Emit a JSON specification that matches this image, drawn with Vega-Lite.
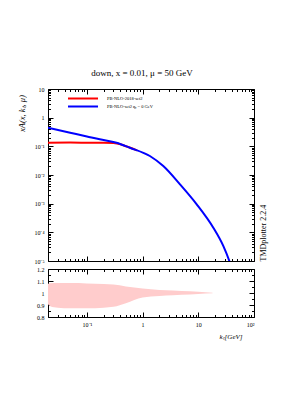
{
  "$schema": "https://vega.github.io/schema/vega-lite/v6.json",
  "padding": {"left": 17, "top": 69, "right": 5, "bottom": 5},
  "config": {
    "font": "Liberation Serif",
    "view": {"stroke": null},
    "axis": {"domainColor": "#000", "domainWidth": 1, "tickColor": "#000", "labelColor": "#000", "labelFont": "Liberation Serif", "labelFontSize": 6, "titleFont": "Liberation Serif", "titleFontWeight": "normal", "titleColor": "#000", "grid": false}
  },
  "title": {"text": "down, x = 0.01, μ = 50 GeV", "font": "Liberation Serif", "fontSize": 9, "fontWeight": "normal", "color": "#000", "offset": 8, "anchor": "middle"},
  "datasets": {
    "curves": [
      {"k": 0.02, "v": 0.134, "s": "PB-NLO-2018-set2"},
      {"k": 0.05, "v": 0.135, "s": "PB-NLO-2018-set2"},
      {"k": 0.1, "v": 0.134, "s": "PB-NLO-2018-set2"},
      {"k": 0.2, "v": 0.133, "s": "PB-NLO-2018-set2"},
      {"k": 0.3, "v": 0.13, "s": "PB-NLO-2018-set2"},
      {"k": 0.4, "v": 0.118, "s": "PB-NLO-2018-set2"},
      {"k": 0.5, "v": 0.101, "s": "PB-NLO-2018-set2"},
      {"k": 0.6, "v": 0.089, "s": "PB-NLO-2018-set2"},
      {"k": 0.8, "v": 0.072, "s": "PB-NLO-2018-set2"},
      {"k": 0.02, "v": 0.447, "s": "PB-NLO-set2 qₛ = 0 GeV"},
      {"k": 0.05, "v": 0.3, "s": "PB-NLO-set2 qₛ = 0 GeV"},
      {"k": 0.1, "v": 0.222, "s": "PB-NLO-set2 qₛ = 0 GeV"},
      {"k": 0.17, "v": 0.176, "s": "PB-NLO-set2 qₛ = 0 GeV"},
      {"k": 0.34, "v": 0.134, "s": "PB-NLO-set2 qₛ = 0 GeV"},
      {"k": 0.59, "v": 0.0895, "s": "PB-NLO-set2 qₛ = 0 GeV"},
      {"k": 1.35, "v": 0.046, "s": "PB-NLO-set2 qₛ = 0 GeV"},
      {"k": 2.35, "v": 0.0206, "s": "PB-NLO-set2 qₛ = 0 GeV"},
      {"k": 4.69, "v": 0.00473, "s": "PB-NLO-set2 qₛ = 0 GeV"},
      {"k": 9.36, "v": 0.00095, "s": "PB-NLO-set2 qₛ = 0 GeV"},
      {"k": 18.6, "v": 0.000145, "s": "PB-NLO-set2 qₛ = 0 GeV"},
      {"k": 28.2, "v": 0.000033, "s": "PB-NLO-set2 qₛ = 0 GeV"},
      {"k": 36.1, "v": 0.00001, "s": "PB-NLO-set2 qₛ = 0 GeV"},
      {"k": 40, "v": 0.0000055, "s": "PB-NLO-set2 qₛ = 0 GeV"}
    ],
    "band": [
      {"k": 0.02, "lo": 0.906, "hi": 1.078},
      {"k": 0.022, "lo": 0.89, "hi": 1.082},
      {"k": 0.03, "lo": 0.877, "hi": 1.083},
      {"k": 0.05, "lo": 0.872, "hi": 1.083},
      {"k": 0.1, "lo": 0.873, "hi": 1.08},
      {"k": 0.2, "lo": 0.878, "hi": 1.075},
      {"k": 0.3, "lo": 0.885, "hi": 1.07},
      {"k": 0.5, "lo": 0.915, "hi": 1.055},
      {"k": 1, "lo": 0.962, "hi": 1.038},
      {"k": 2, "lo": 0.975, "hi": 1.025},
      {"k": 3.5, "lo": 0.981, "hi": 1.02},
      {"k": 5, "lo": 0.985, "hi": 1.016},
      {"k": 10, "lo": 0.992, "hi": 1.01},
      {"k": 18, "lo": 0.998, "hi": 1.002}
    ]
  },
  "bounds": "flush",
  "spacing": 8,
  "vconcat": [
    {
      "width": 206,
      "height": 172,
      "layer": [
        {
          "data": {"name": "curves"},
          "mark": {"type": "line", "clip": true, "strokeWidth": 2, "interpolate": "monotone"},
          "encoding": {
            "x": {"field": "k", "type": "quantitative", "scale": {"type": "log", "domain": [0.02, 100], "nice": false},
              "axis": {"orient": "bottom", "values": [0.02,0.03,0.04,0.05,0.06,0.07,0.08,0.09,0.1,0.2,0.3,0.4,0.5,0.6,0.7,0.8,0.9,1,2,3,4,5,6,7,8,9,10,20,30,40,50,60,70,80,90,100], "labels": false, "title": null,
                "tickSize": {"condition": {"test": "datum.value==0.1||datum.value==1||datum.value==10||datum.value==100", "value": -5}, "value": -2.5}}},
            "y": {"field": "v", "type": "quantitative", "scale": {"type": "log", "domain": [0.00001, 10], "nice": false},
              "axis": {"orient": "left", "values": [0.00001,0.00002,0.00003,0.00004,0.00005,0.00006,0.00007,0.00008,0.00009,0.0001,0.0002,0.0003,0.0004,0.0005,0.0006,0.0007,0.0008,0.0009,0.001,0.002,0.003,0.004,0.005,0.006,0.007,0.008,0.009,0.01,0.02,0.03,0.04,0.05,0.06,0.07,0.08,0.09,0.1,0.2,0.3,0.4,0.5,0.6,0.7,0.8,0.9,1,2,3,4,5,6,7,8,9,10],
                "labelExpr": "datum.value==10?'10':datum.value==1?'1':datum.value==0.1?'10⁻¹':datum.value==0.01?'10⁻²':datum.value==0.001?'10⁻³':datum.value==0.0001?'10⁻⁴':datum.value==0.00001?'10⁻⁵':''",
                "labelPadding": 9,
                "tickSize": {"condition": {"test": "datum.value==0.00001||datum.value==0.0001||datum.value==0.001||datum.value==0.01||datum.value==0.1||datum.value==1||datum.value==10", "value": -5}, "value": -2.5},
                "title": "xA(x, kₜ, μ)", "titleFontSize": 8.5, "titleFontStyle": "italic", "titleX": -27, "titleY": 24, "titleAlign": "center", "titleBaseline": "middle", "titleAngle": 270}},
            "color": {"field": "s", "type": "nominal", "scale": {"domain": ["PB-NLO-2018-set2", "PB-NLO-set2 qₛ = 0 GeV"], "range": ["#ff0000", "#0000ff"]},
              "legend": {"orient": "none", "legendX": 31.5, "legendY": 6, "title": null, "symbolType": "M-6,0H6", "symbolSize": 25, "symbolStrokeWidth": 2, "symbolFillColor": "transparent", "labelFontSize": 4.5, "labelFont": "Liberation Serif", "labelColor": "#000", "rowPadding": -1, "labelOffset": 20.5}}
          }
        },
        {
          "data": {"name": "curves"},
          "mark": {"type": "line", "opacity": 0},
          "encoding": {
            "x": {"field": "k", "type": "quantitative", "scale": {"type": "log", "domain": [0.02, 100], "nice": false},
              "axis": {"orient": "top", "values": [0.02,0.03,0.04,0.05,0.06,0.07,0.08,0.09,0.1,0.2,0.3,0.4,0.5,0.6,0.7,0.8,0.9,1,2,3,4,5,6,7,8,9,10,20,30,40,50,60,70,80,90,100], "labels": false, "title": null,
                "tickSize": {"condition": {"test": "datum.value==0.1||datum.value==1||datum.value==10||datum.value==100", "value": -5}, "value": -2.5}}},
            "y": {"field": "v", "type": "quantitative", "scale": {"type": "log", "domain": [0.00001, 10], "nice": false},
              "axis": {"orient": "right", "values": [0.00001,0.00002,0.00003,0.00004,0.00005,0.00006,0.00007,0.00008,0.00009,0.0001,0.0002,0.0003,0.0004,0.0005,0.0006,0.0007,0.0008,0.0009,0.001,0.002,0.003,0.004,0.005,0.006,0.007,0.008,0.009,0.01,0.02,0.03,0.04,0.05,0.06,0.07,0.08,0.09,0.1,0.2,0.3,0.4,0.5,0.6,0.7,0.8,0.9,1,2,3,4,5,6,7,8,9,10], "labels": false,
                "tickSize": {"condition": {"test": "datum.value==0.00001||datum.value==0.0001||datum.value==0.001||datum.value==0.01||datum.value==0.1||datum.value==1||datum.value==10", "value": -5}, "value": -2.5},
                "title": "TMDplotter 2.2.4", "titleFontSize": 8, "titleAnchor": "start", "titleX": 9, "titleY": 172, "titleAlign": "left", "titleBaseline": "middle", "titleAngle": 270}}
          }
        }
      ],
      "resolve": {"scale": {"x": "independent", "y": "independent"}}
    },
    {
      "width": 206,
      "height": 48,
      "layer": [
        {
          "data": {"name": "band"},
          "mark": {"type": "area", "color": "#ffcccc", "clip": true, "interpolate": "monotone"},
          "encoding": {
            "x": {"field": "k", "type": "quantitative", "scale": {"type": "log", "domain": [0.02, 100], "nice": false},
              "axis": {"orient": "bottom", "values": [0.02,0.03,0.04,0.05,0.06,0.07,0.08,0.09,0.1,0.2,0.3,0.4,0.5,0.6,0.7,0.8,0.9,1,2,3,4,5,6,7,8,9,10,20,30,40,50,60,70,80,90,100],
                "labelExpr": "datum.value==0.1?'10⁻¹':datum.value==1?'1':datum.value==10?'10':datum.value==100?'10²':''",
                "labelPadding": 9,
                "tickSize": {"condition": {"test": "datum.value==0.1||datum.value==1||datum.value==10||datum.value==100", "value": -5}, "value": -2.5},
                "title": "kₜ[GeV]", "titleFontSize": 7, "titleFontStyle": "italic", "titleX": 194, "titleY": 19, "titleAlign": "right", "titleBaseline": "middle"}},
            "y": {"field": "lo", "type": "quantitative", "scale": {"domain": [0.8, 1.2], "nice": false},
              "axis": {"orient": "left", "values": [0.8,0.85,0.9,0.95,1,1.05,1.1,1.15,1.2],
                "labelExpr": "datum.value==0.8?'0.8':datum.value==0.9?'0.9':datum.value==1?'1':datum.value==1.1?'1.1':datum.value==1.2?'1.2':''",
                "labelPadding": 9,
                "tickSize": {"condition": {"test": "datum.value==0.8||datum.value==0.9||datum.value==1||datum.value==1.1||datum.value==1.2", "value": -5}, "value": -2.5},
                "title": null}},
            "y2": {"field": "hi"}
          }
        },
        {
          "data": {"name": "band"},
          "mark": {"type": "line", "opacity": 0},
          "encoding": {
            "x": {"field": "k", "type": "quantitative", "scale": {"type": "log", "domain": [0.02, 100], "nice": false},
              "axis": {"orient": "top", "values": [0.02,0.03,0.04,0.05,0.06,0.07,0.08,0.09,0.1,0.2,0.3,0.4,0.5,0.6,0.7,0.8,0.9,1,2,3,4,5,6,7,8,9,10,20,30,40,50,60,70,80,90,100], "labels": false, "title": null,
                "tickSize": {"condition": {"test": "datum.value==0.1||datum.value==1||datum.value==10||datum.value==100", "value": -5}, "value": -2.5}}},
            "y": {"field": "lo", "type": "quantitative", "scale": {"domain": [0.8, 1.2], "nice": false},
              "axis": {"orient": "right", "values": [0.8,0.85,0.9,0.95,1,1.05,1.1,1.15,1.2], "labels": false, "title": null,
                "tickSize": {"condition": {"test": "datum.value==0.8||datum.value==0.9||datum.value==1||datum.value==1.1||datum.value==1.2", "value": -5}, "value": -2.5}}}
          }
        }
      ],
      "resolve": {"scale": {"x": "independent", "y": "independent"}}
    }
  ]
}
